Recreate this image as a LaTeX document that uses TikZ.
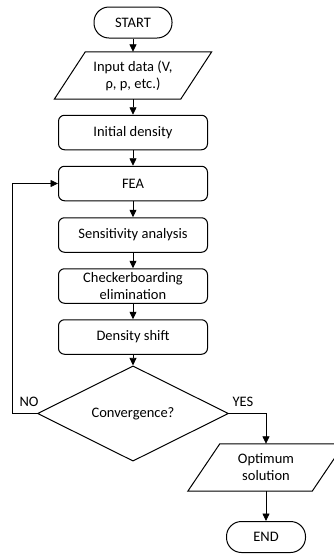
\documentclass[tikz,border=0pt]{standalone}
\usepackage{fontspec}
\setmainfont{Carlito}
\usetikzlibrary{shapes.geometric,arrows.meta,calc}
\begin{document}
\begin{tikzpicture}[x=1pt,y=-1pt,
  txt/.style={font=\fontsize{14.5}{17}\selectfont,align=center},
  box/.style={txt,draw,line width=1pt,rounded corners=6pt,minimum width=149pt,minimum height=34.5pt,inner sep=0pt},
  term/.style={txt,draw,line width=1pt,rounded corners=15pt,minimum height=31pt,inner sep=0pt},
  para/.style={txt,minimum height=47pt,inner sep=0pt},
  decision/.style={txt,diamond,draw,line width=1pt,minimum width=191pt,minimum height=83pt,inner sep=0pt},
  outline/.style={line width=1pt,line join=miter},
  link/.style={line width=0.8pt,-{Triangle[length=7.5pt,width=7pt]}},
]
\clip (0,0) rectangle (334,555);

% process chain
\node[term,minimum width=78pt] (start) at (133,22.5) {START};
\node[para,minimum width=126pt] (input) at (133,75.5) {Input data (V,\\ρ, p, etc.)};
\node[box] (init)  at (133,132.5) {Initial density};
\node[box] (fea)   at (133,183.5) {FEA};
\node[box] (sens)  at (133,235)   {Sensitivity analysis};
\node[box] (check) at (133,286)   {Checkerboarding\\elimination};
\node[box] (shift) at (133,337)   {Density shift};
\node[decision] (conv) at (133,413.5) {Convergence?};
\node[para,minimum width=124pt] (opt) at (266,467.5) {Optimum\\solution};
\node[term,minimum width=79pt] (end) at (266,537) {END};

% parallelogram outlines for the input/output steps
\draw[outline] ([xshift=15.5pt]input.north west) -- ([xshift=15.5pt]input.north east)
  -- ([xshift=-15.5pt]input.south east) -- ([xshift=-15.5pt]input.south west) -- cycle;
\draw[outline] ([xshift=16pt]opt.north west) -- ([xshift=16pt]opt.north east)
  -- ([xshift=-16pt]opt.south east) -- ([xshift=-16pt]opt.south west) -- cycle;

% branch labels
\node[txt] (no)  at (29,402)  {NO};
\node[txt] (yes) at (243,402) {YES};

% connectors
\draw[link] (start) -- (input.north);
\draw[link] (input.south) -- (init);
\draw[link] (init) -- (fea);
\draw[link] (fea) -- (sens);
\draw[link] (sens) -- (check);
\draw[link] (check) -- (shift);
\draw[link] (shift) -- (conv);
\coordinate (back) at (12.5,413.5);
\draw[link] (conv.west) -- (back) |- (fea.west);
\draw[link] (conv.east) -| (opt.north);
\draw[link] (opt.south) -- (end);
\end{tikzpicture}
\end{document}
